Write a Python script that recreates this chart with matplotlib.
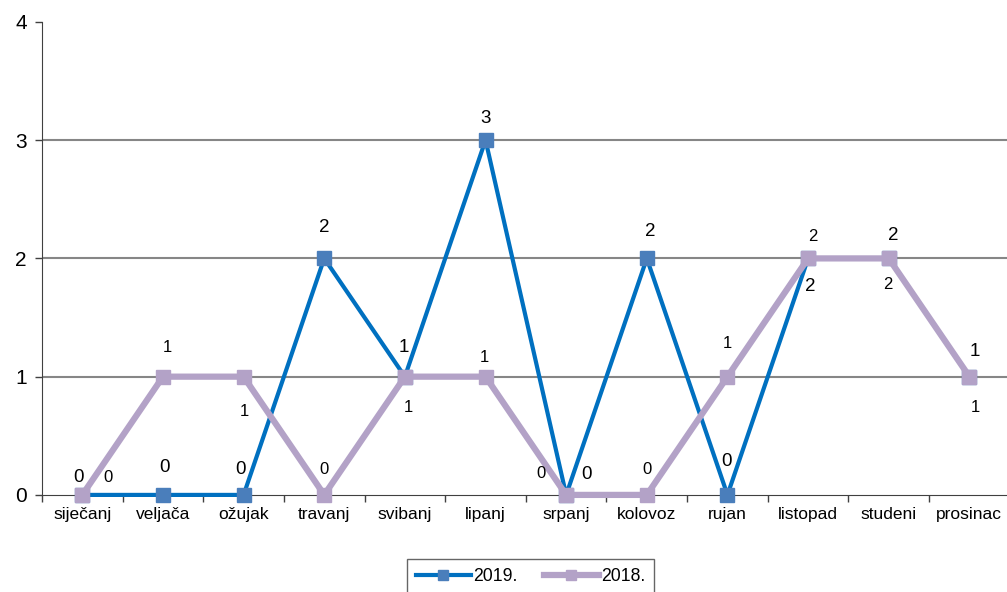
import matplotlib.pyplot as plt
import numpy as np

plt.rcParams['font.family'] = ['Liberation Sans', 'DejaVu Sans']

months = ['siječanj', 'veljača', 'ožujak', 'travanj', 'svibanj', 'lipanj',
          'srpanj', 'kolovoz', 'rujan', 'listopad', 'studeni', 'prosinac']
y2019 = [0, 0, 0, 2, 1, 3, 0, 2, 0, 2, 2, 1]
y2018 = [0, 1, 1, 0, 1, 1, 0, 0, 1, 2, 2, 1]

# pomaci oznaka (u pikselima)
off2019 = [(-4, 17), (2, 27), (-3, 25), (0, 31), (-1, 29), (0, 22),
           (20, 20), (3, 27), (-1, 33), (2, -28), (4, 23), (5, 25)]
off2018 = [(26, 17), (4, 29), (1, -35), (0, 25), (3, -31), (-1, 19),
           (-25, 21), (0, 25), (0, 33), (5, 22), (-1, -26), (6, -31)]

fig = plt.figure(figsize=(10.07, 5.92), dpi=100)
ax = fig.add_axes([0.0417, 0.164, 0.961, 0.799])

x = np.arange(len(months))
ax.plot(x, y2019, color='#0070C0', lw=3, marker='s', ms=10,
        mfc='#4A7EBB', mec='#4A7EBB', label='2019.', zorder=3, clip_on=False)
ax.plot(x, y2018, color='#B3A2C7', lw=4.5, marker='s', ms=10.5,
        mfc='#B3A2C7', mec='#B3A2C7', label='2018.', zorder=4, clip_on=False)

for i in range(len(months)):
    ax.annotate(str(y2019[i]), (x[i], y2019[i]), xytext=off2019[i],
                textcoords='offset pixels', ha='center', va='center',
                fontsize=13.5, color='black', zorder=5)
    ax.annotate(str(y2018[i]), (x[i], y2018[i]), xytext=off2018[i],
                textcoords='offset pixels', ha='center', va='center',
                fontsize=12, color='black', zorder=5)

ax.set_xlim(-0.5, 11.5)
ax.set_ylim(0, 4)
ax.set_yticks([0, 1, 2, 3, 4])
ax.set_xticks(x)
ax.set_xticklabels(months, fontsize=12.5)
ax.set_xticks(np.arange(-0.5, 12, 1), minor=True)
ax.tick_params(axis='x', which='major', length=0, pad=9)
ax.tick_params(axis='x', which='minor', length=5, width=1, color='#404040')
ax.tick_params(axis='y', length=5, width=1, labelsize=15, color='#404040', pad=6)

for yv in [1, 2, 3]:
    ax.axhline(yv, color='#868686', lw=1.5, zorder=1)

ax.spines['top'].set_visible(False)
ax.spines['right'].set_visible(False)
ax.spines['left'].set_color('#404040')
ax.spines['bottom'].set_color('#404040')

leg = fig.legend(loc='upper center', bbox_to_anchor=(0.527, 0.0557), ncol=2,
                 frameon=True, fancybox=False, fontsize=12.7, handlelength=3.1,
                 handletextpad=0.15, columnspacing=1.5, borderpad=0.5,
                 markerscale=0.7, borderaxespad=0)
leg.get_frame().set_edgecolor('#404040')
leg.get_frame().set_linewidth(1)

fig.savefig('out.png', dpi=100)
